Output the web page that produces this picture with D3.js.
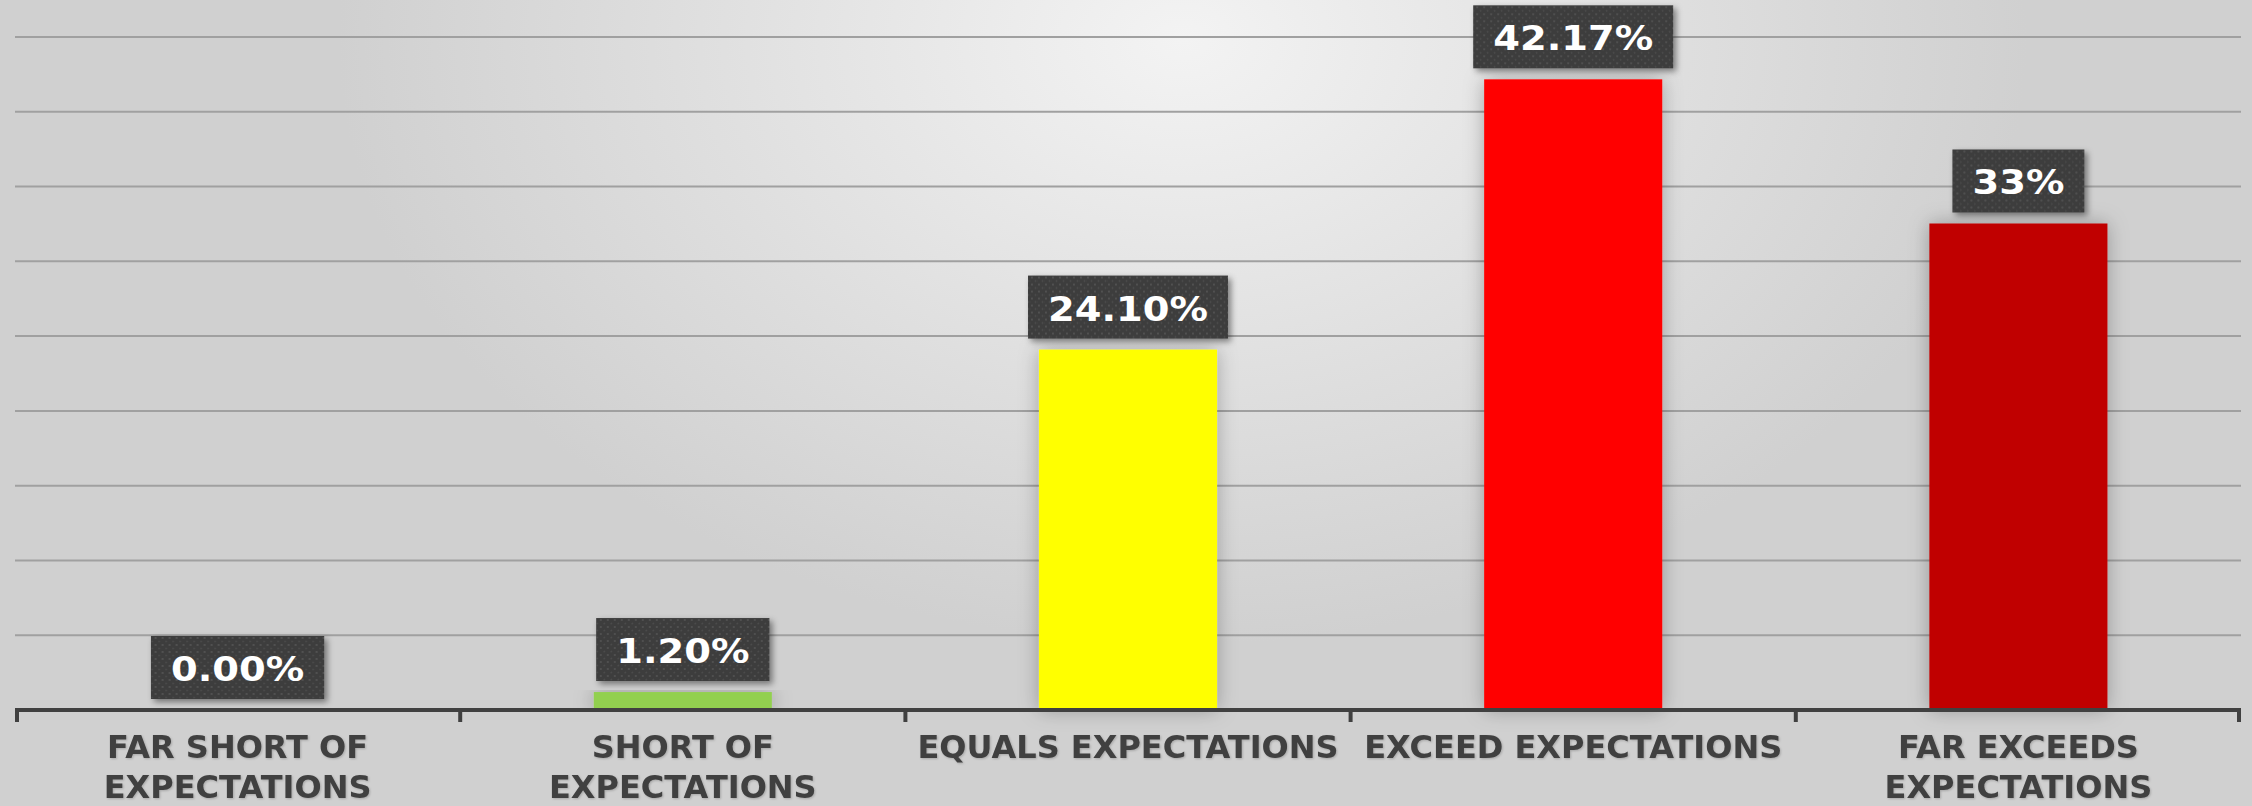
<!DOCTYPE html>
<html>
<head>
<meta charset="utf-8">
<script src="https://cdn.jsdelivr.net/npm/d3@7"></script>
<style>
  body { margin: 0; background: #dcdcdc; }
  svg { display: block; }
</style>
</head>
<body>
<div id="chart"></div>
<script>
// data
var categories = ["FAR SHORT OF EXPECTATIONS", "SHORT OF EXPECTATIONS", "EQUALS EXPECTATIONS", "EXCEED EXPECTATIONS", "FAR EXCEEDS EXPECTATIONS"];
var categoryLines = [["FAR SHORT OF", "EXPECTATIONS"], ["SHORT OF", "EXPECTATIONS"], ["EQUALS EXPECTATIONS"], ["EXCEED EXPECTATIONS"], ["FAR EXCEEDS", "EXPECTATIONS"]];
var values = [0, 1.2, 24.1, 42.17, 32.53];
var valueLabels = ["0.00%", "1.20%", "24.10%", "42.17%", "33%"];
var barColors = ["#92d050", "#92d050", "#ffff00", "#ff0000", "#c00000"];
var gridTicks = [5, 10, 15, 20, 25, 30, 35, 40, 45];

var W = 2252, H = 806;
var margin = {top: 37, right: 11, bottom: 96, left: 15},
    width = W - margin.left - margin.right,
    height = H - margin.top - margin.bottom;

var svg = d3.select("#chart")
  .append("svg")
    .attr("width", W)
    .attr("height", H);

var defs = svg.append("defs");

var bg = defs.append("radialGradient")
    .attr("id", "bg")
    .attr("cx", "55%").attr("cy", "5%").attr("r", "75%")
    .attr("gradientTransform", "translate(0.5,0) scale(0.5,1) translate(-0.5,0)");
bg.append("stop").attr("offset", "0%").attr("stop-color", "#f3f3f3");
bg.append("stop").attr("offset", "100%").attr("stop-color", "#d0d0d0");

var dots = defs.append("pattern")
    .attr("id", "dots")
    .attr("width", 7).attr("height", 7)
    .attr("patternUnits", "userSpaceOnUse");
dots.append("rect").attr("width", 7).attr("height", 7).attr("fill", "#3c3c3c");
dots.append("circle").attr("cx", 2).attr("cy", 2).attr("r", 0.9).attr("fill", "#5a5a5a");
dots.append("circle").attr("cx", 5.5).attr("cy", 5.5).attr("r", 0.9).attr("fill", "#4e4e4e");

var boxShadow = defs.append("filter").attr("id", "boxShadow")
    .attr("x", "-20%").attr("y", "-30%").attr("width", "150%").attr("height", "170%");
boxShadow.append("feDropShadow")
    .attr("dx", 3).attr("dy", 3).attr("stdDeviation", 3)
    .attr("flood-color", "#000").attr("flood-opacity", 0.45);

var barShadow = defs.append("filter").attr("id", "barShadow")
    .attr("x", "-40%").attr("y", "-10%").attr("width", "180%").attr("height", "120%");
barShadow.append("feDropShadow")
    .attr("dx", 0).attr("dy", 0).attr("stdDeviation", 10)
    .attr("flood-color", "#000").attr("flood-opacity", 0.28);

var textShadow = defs.append("filter").attr("id", "textShadow");
textShadow.append("feDropShadow")
    .attr("dx", 1).attr("dy", 1).attr("stdDeviation", 1)
    .attr("flood-color", "#000").attr("flood-opacity", 0.2);

svg.append("rect")
    .attr("width", W).attr("height", H)
    .attr("fill", "url(#bg)");

var g = svg.append("g")
    .attr("transform", "translate(" + margin.left + "," + margin.top + ")");

var x = d3.scaleBand()
    .domain(categories)
    .range([0, width])
    .paddingInner(0.6)
    .paddingOuter(0.3);

var y = d3.scaleLinear()
    .domain([0, 45])
    .range([height, 0]);

// gridlines
g.append("g")
  .selectAll("line")
  .data(gridTicks)
  .enter()
  .append("line")
    .attr("x1", 0)
    .attr("x2", width)
    .attr("y1", function(d){ return y(d) })
    .attr("y2", function(d){ return y(d) })
    .attr("stroke", "#a0a0a0")
    .attr("stroke-width", 2);

// bars
g.append("g")
  .selectAll("rect")
  .data(values)
  .enter()
  .append("rect")
    .attr("x", function(d, i){ return x(categories[i]) })
    .attr("y", function(d){ return y(d) })
    .attr("width", x.bandwidth())
    .attr("height", function(d){ return height - y(d) })
    .attr("fill", function(d, i){ return barColors[i] })
    .attr("filter", function(d){ return d > 0 ? "url(#barShadow)" : null });

// x axis: baseline with ticks at the category boundaries
var step = x.step();
var axis = g.append("g")
    .attr("transform", "translate(0," + height + ")");
axis.append("line")
    .attr("x1", 0).attr("x2", width)
    .attr("stroke", "#404040")
    .attr("stroke-width", 4);
axis.selectAll(".tk")
  .data(d3.range(categories.length + 1))
  .enter()
  .append("line")
    .attr("class", "tk")
    .attr("x1", function(d){ return Math.min(Math.max(d * step, 2), width - 2) })
    .attr("x2", function(d){ return Math.min(Math.max(d * step, 2), width - 2) })
    .attr("y1", 0).attr("y2", 12)
    .attr("stroke", "#404040")
    .attr("stroke-width", 4);

// category labels
var catLabel = axis.selectAll(".cat")
  .data(categoryLines)
  .enter()
  .append("text")
    .attr("class", "cat")
    .attr("text-anchor", "middle")
    .attr("font-family", "DejaVu Sans")
    .attr("font-weight", "bold")
    .attr("font-size", 32)
    .attr("fill", "#404040")
    .attr("filter", "url(#textShadow)");
catLabel.selectAll("tspan")
  .data(function(d, i){ return d.map(function(s){ return {s: s, i: i} }) })
  .enter()
  .append("tspan")
    .attr("x", function(d){ return x(categories[d.i]) + x.bandwidth() / 2 })
    .attr("y", function(d, j){ return 48 + j * 40 })
    .text(function(d){ return d.s });

// data labels
var gap = 11, boxH = 63, stretch = 1.13;
var lab = g.append("g")
  .selectAll("g")
  .data(values)
  .enter()
  .append("g")
    .attr("transform", function(d, i){
      return "translate(" + (x(categories[i]) + x.bandwidth() / 2) + "," + (y(d) - gap - boxH) + ")";
    });

lab.each(function(d, i){
  var el = d3.select(this);
  var box = el.append("rect")
      .attr("y", 0)
      .attr("height", boxH)
      .attr("fill", "url(#dots)")
      .attr("filter", "url(#boxShadow)");
  var t = el.append("text")
      .attr("transform", "translate(0,45) scale(" + stretch + ",1)")
      .attr("text-anchor", "middle")
      .attr("font-family", "DejaVu Sans")
      .attr("font-weight", "bold")
      .attr("font-size", 34)
      .attr("fill", "#ffffff")
      .text(valueLabels[i]);
  var w = t.node().getComputedTextLength() * stretch + 40;
  box.attr("x", -w / 2).attr("width", w);
});
</script>
</body>
</html>
